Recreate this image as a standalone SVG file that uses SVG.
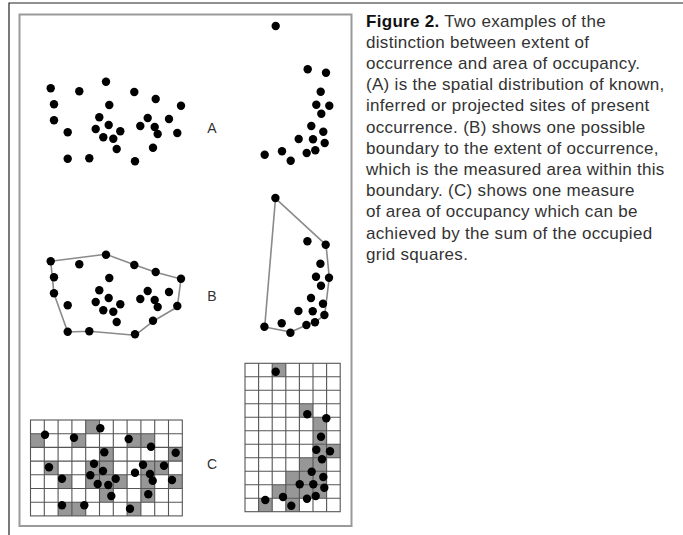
<svg xmlns="http://www.w3.org/2000/svg" width="683" height="535" viewBox="0 0 683 535">
<style>
.d{fill:#000}
.hull{fill:none;stroke:#8a8a8a;stroke-width:1.6;stroke-linejoin:round}
.cell{fill:#979797}
.grid{fill:none;stroke:#555;stroke-width:1.1}
.lbl{font-family:"Liberation Sans",Arial,sans-serif;font-size:14px;fill:#333;text-anchor:middle}
.cap{font-family:"Liberation Sans",Arial,sans-serif;font-size:17px;letter-spacing:0.3px;fill:#333}
</style>
<defs>
<g id="ptsL">
<circle class="d" cx="50.7" cy="88.3" r="4.2"/><circle class="d" cx="79.3" cy="91.3" r="4.2"/><circle class="d" cx="106" cy="81.7" r="4.2"/><circle class="d" cx="134.3" cy="92" r="4.2"/><circle class="d" cx="155.7" cy="99" r="4.2"/><circle class="d" cx="181" cy="105.7" r="4.2"/><circle class="d" cx="54" cy="104.3" r="4.2"/><circle class="d" cx="109.3" cy="105" r="4.2"/><circle class="d" cx="54" cy="120.3" r="4.2"/><circle class="d" cx="99.3" cy="117.3" r="4.2"/><circle class="d" cx="108.7" cy="125" r="4.2"/><circle class="d" cx="95.7" cy="129" r="4.2"/><circle class="d" cx="120.3" cy="131.3" r="4.2"/><circle class="d" cx="103.3" cy="137.3" r="4.2"/><circle class="d" cx="113.3" cy="138.7" r="4.2"/><circle class="d" cx="67.7" cy="132.3" r="4.2"/><circle class="d" cx="147.7" cy="118" r="4.2"/><circle class="d" cx="140.3" cy="126" r="4.2"/><circle class="d" cx="154.7" cy="127" r="4.2"/><circle class="d" cx="157.7" cy="134" r="4.2"/><circle class="d" cx="169" cy="119" r="4.2"/><circle class="d" cx="177.3" cy="133" r="4.2"/><circle class="d" cx="116.7" cy="149" r="4.2"/><circle class="d" cx="153" cy="147.7" r="4.2"/><circle class="d" cx="67.7" cy="158.7" r="4.2"/><circle class="d" cx="89.3" cy="158.3" r="4.2"/><circle class="d" cx="135" cy="161.3" r="4.2"/>
</g>
<g id="ptsR">
<circle class="d" cx="275.7" cy="26" r="4.2"/><circle class="d" cx="307.7" cy="69.3" r="4.2"/><circle class="d" cx="326" cy="72.7" r="4.2"/><circle class="d" cx="320.7" cy="91.7" r="4.2"/><circle class="d" cx="316.3" cy="104.7" r="4.2"/><circle class="d" cx="329.3" cy="105.7" r="4.2"/><circle class="d" cx="321.3" cy="113.7" r="4.2"/><circle class="d" cx="311.3" cy="126" r="4.2"/><circle class="d" cx="323.3" cy="131.7" r="4.2"/><circle class="d" cx="298.7" cy="139" r="4.2"/><circle class="d" cx="313" cy="139.3" r="4.2"/><circle class="d" cx="324.7" cy="143" r="4.2"/><circle class="d" cx="315.3" cy="150.3" r="4.2"/><circle class="d" cx="306.7" cy="153" r="4.2"/><circle class="d" cx="282" cy="151.3" r="4.2"/><circle class="d" cx="264.7" cy="154.7" r="4.2"/><circle class="d" cx="290.7" cy="160.7" r="4.2"/>
</g>
</defs>

<path d="M9,535 V3 H683" fill="none" stroke="#222" stroke-width="1.2"/>
<rect x="19.5" y="14.5" width="332" height="511.5" fill="#fff" stroke="#9a9a9a" stroke-width="2"/>

<g id="panel-A-left"><use href="#ptsL"/></g>
<g id="panel-A-right"><use href="#ptsR"/></g>
<g id="label-A"><text class="lbl" x="212" y="133">A</text></g>

<g id="panel-B-left">
<polygon class="hull" points="50.7,261.3 106,254.3 134.3,264.7 155.7,272.3 181,279 177.3,307 153,321.3 135,335.3 89.3,331.3 67.7,332 54,293.7"/>
<use href="#ptsL" transform="translate(0,173)"/>
</g>
<g id="panel-B-right">
<polygon class="hull" points="275.5,198.3 326,244.8 329.3,277.5 324.7,314.8 315.3,322 306.7,325 290.7,332 264.7,327"/>
<use href="#ptsR" transform="translate(-0.3,172)"/>
</g>
<g id="label-B"><text class="lbl" x="212" y="301">B</text></g>

<g id="panel-C-left">
<g class="cell">
<rect x="85.7" y="420" width="13.8" height="13.7"/>
<rect x="30.5" y="433.7" width="13.8" height="13.7"/><rect x="71.9" y="433.7" width="13.8" height="13.7"/><rect x="127.1" y="433.7" width="27.6" height="13.7"/>
<rect x="99.5" y="447.4" width="13.8" height="13.7"/><rect x="168.5" y="447.4" width="13.8" height="13.7"/>
<rect x="44.3" y="461.1" width="13.8" height="13.7"/><rect x="85.7" y="461.1" width="27.6" height="13.7"/><rect x="140.9" y="461.1" width="27.6" height="13.7"/>
<rect x="58.1" y="474.8" width="13.8" height="13.7"/><rect x="85.7" y="474.8" width="41.4" height="13.7"/><rect x="140.9" y="474.8" width="13.8" height="13.7"/><rect x="168.5" y="474.8" width="13.8" height="13.7"/>
<rect x="99.5" y="488.5" width="13.8" height="13.7"/><rect x="140.9" y="488.5" width="13.8" height="13.7"/>
<rect x="58.1" y="502.2" width="27.6" height="13.7"/><rect x="127.1" y="502.2" width="13.8" height="13.7"/>
</g>
<path class="grid" d="M44.3,420V515.9M58.1,420V515.9M71.9,420V515.9M85.7,420V515.9M99.5,420V515.9M113.3,420V515.9M127.1,420V515.9M140.9,420V515.9M154.7,420V515.9M168.5,420V515.9M30.5,433.7H182.3M30.5,447.4H182.3M30.5,461.1H182.3M30.5,474.8H182.3M30.5,488.5H182.3M30.5,502.2H182.3"/>
<rect class="grid" x="30.5" y="420" width="151.8" height="95.9" stroke-width="1.4"/>
<circle class="d" cx="100.3" cy="428.3" r="4.2"/><circle class="d" cx="45" cy="434.7" r="4.2"/><circle class="d" cx="74" cy="437.7" r="4.2"/><circle class="d" cx="128.7" cy="439" r="4.2"/><circle class="d" cx="151" cy="446.7" r="4.2"/><circle class="d" cx="175.7" cy="452.7" r="4.2"/><circle class="d" cx="104.3" cy="452.3" r="4.2"/><circle class="d" cx="49" cy="467.3" r="4.2"/><circle class="d" cx="94" cy="463.7" r="4.2"/><circle class="d" cx="103" cy="471" r="4.2"/><circle class="d" cx="90.3" cy="475.3" r="4.2"/><circle class="d" cx="115.7" cy="478.7" r="4.2"/><circle class="d" cx="97.7" cy="484" r="4.2"/><circle class="d" cx="108.3" cy="485" r="4.2"/><circle class="d" cx="62" cy="478.7" r="4.2"/><circle class="d" cx="143" cy="464.7" r="4.2"/><circle class="d" cx="135" cy="472.7" r="4.2"/><circle class="d" cx="150" cy="474" r="4.2"/><circle class="d" cx="152.7" cy="480.7" r="4.2"/><circle class="d" cx="164" cy="465.7" r="4.2"/><circle class="d" cx="172" cy="480" r="4.2"/><circle class="d" cx="111.3" cy="496" r="4.2"/><circle class="d" cx="148.3" cy="494.3" r="4.2"/><circle class="d" cx="62" cy="505.3" r="4.2"/><circle class="d" cx="84.3" cy="505.3" r="4.2"/><circle class="d" cx="130" cy="508.7" r="4.2"/>
</g>

<g id="panel-C-right">
<g class="cell">
<rect x="272.2" y="363.3" width="13.6" height="13.5"/>
<rect x="299.4" y="403.8" width="13.6" height="13.5"/>
<rect x="313" y="417.3" width="13.6" height="27"/>
<rect x="313" y="444.3" width="27.2" height="13.5"/>
<rect x="299.4" y="457.8" width="27.2" height="13.5"/>
<rect x="285.8" y="471.2" width="40.8" height="13.5"/>
<rect x="272.2" y="484.7" width="54.4" height="13.5"/>
<rect x="258.6" y="498.2" width="13.6" height="13.5"/><rect x="285.8" y="498.2" width="13.6" height="13.5"/>
</g>
<path class="grid" d="M258.6,363.3V511.7M272.2,363.3V511.7M285.8,363.3V511.7M299.4,363.3V511.7M313,363.3V511.7M326.6,363.3V511.7M245,376.8H340.2M245,390.3H340.2M245,403.8H340.2M245,417.3H340.2M245,430.8H340.2M245,444.3H340.2M245,457.8H340.2M245,471.2H340.2M245,484.7H340.2M245,498.2H340.2"/>
<rect class="grid" x="245" y="363.3" width="95.2" height="148.4" stroke-width="1.4"/>
<circle class="d" cx="275.7" cy="371.7" r="4.2"/><circle class="d" cx="307.3" cy="414.3" r="4.2"/><circle class="d" cx="326.3" cy="418.3" r="4.2"/><circle class="d" cx="321" cy="436.7" r="4.2"/><circle class="d" cx="316.3" cy="449.7" r="4.2"/><circle class="d" cx="330" cy="451.3" r="4.2"/><circle class="d" cx="322" cy="459.3" r="4.2"/><circle class="d" cx="311.7" cy="471.7" r="4.2"/><circle class="d" cx="323.3" cy="477" r="4.2"/><circle class="d" cx="299.7" cy="484.3" r="4.2"/><circle class="d" cx="313.3" cy="484.3" r="4.2"/><circle class="d" cx="324.3" cy="487.7" r="4.2"/><circle class="d" cx="315.7" cy="496" r="4.2"/><circle class="d" cx="307" cy="498.7" r="4.2"/><circle class="d" cx="283" cy="497" r="4.2"/><circle class="d" cx="265.3" cy="500" r="4.2"/><circle class="d" cx="291.3" cy="505.7" r="4.2"/>
</g>
<g id="label-C"><text class="lbl" x="212" y="469">C</text></g>

<g id="caption">
<text class="cap" x="366" y="26.5"><tspan font-weight="bold" fill="#111">Figure 2.</tspan> Two examples of the</text>
<text class="cap" x="366" y="47.7">distinction between extent of</text>
<text class="cap" x="366" y="68.9">occurrence and area of occupancy.</text>
<text class="cap" x="366" y="90.1">(A) is the spatial distribution of known,</text>
<text class="cap" x="366" y="111.3">inferred or projected sites of present</text>
<text class="cap" x="366" y="132.5">occurrence. (B) shows one possible</text>
<text class="cap" x="366" y="153.7">boundary to the extent of occurrence,</text>
<text class="cap" x="366" y="174.9">which is the measured area within this</text>
<text class="cap" x="366" y="196.1">boundary. (C) shows one measure</text>
<text class="cap" x="366" y="217.3">of area of occupancy which can be</text>
<text class="cap" x="366" y="238.5">achieved by the sum of the occupied</text>
<text class="cap" x="366" y="259.7">grid squares.</text>
</g>
</svg>
